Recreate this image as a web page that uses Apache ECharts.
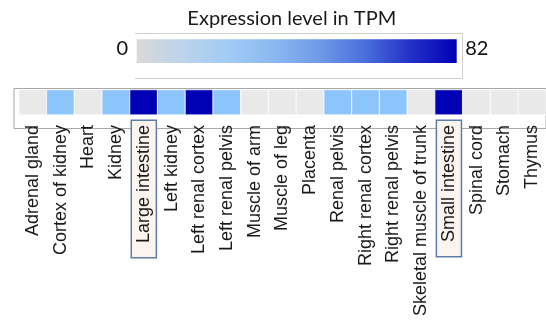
<!DOCTYPE html>
<html>
<head>
<meta charset="utf-8">
<script src="https://cdn.jsdelivr.net/npm/echarts@6/dist/echarts.min.js"></script>
<style>
  html, body { margin: 0; padding: 0; background: #ffffff; }
  #chart { width: 546px; height: 324px; }
</style>
</head>
<body>
<div id="chart"></div>
<script>
// Tissues along the strip, in display order
const tissues = [
  'Adrenal gland', 'Cortex of kidney', 'Heart', 'Kidney', 'Large intestine',
  'Left kidney', 'Left renal cortex', 'Left renal pelvis', 'Muscle of arm',
  'Muscle of leg', 'Placenta', 'Renal pelvis', 'Right renal cortex',
  'Right renal pelvis', 'Skeletal muscle of trunk', 'Small intestine',
  'Spinal cord', 'Stomach', 'Thymus'
];
// Expression level (TPM) per tissue
const tpm = [0, 41, 0, 41, 82, 41, 82, 41, 0, 0, 0, 41, 41, 41, 0, 82, 0, 0, 0];
// Tissues whose labels are boxed
const highlighted = ['Large intestine', 'Small intestine'];
// Colour scale range and caption
const scaleMin = 0;
const scaleMax = 82;
const scaleTitle = 'Expression level in TPM';
// Colour ramp shown in the key, low to high
const keyColors = ['#d9d9d9', '#bcd3eb', '#a2cbf4', '#8bb8f0', '#6f9ae8', '#4a6edc', '#2330c8', '#0000b4'];
// Colour ramp applied to the strip cells, low to high
const cellColors = ['#e9e9e9', '#8cc4fc', '#0000b4'];

const labelFont = '"Liberation Sans", Arial, sans-serif';
const keyFont = 'Lato, "Open Sans", sans-serif';

const chart = echarts.init(document.getElementById('chart'), null, { renderer: 'canvas' });

// Colour key: gradient bar with its end values, inside a light frame
const keyBar = { x: 136.7, y: 39.3, width: 320, height: 23.7 };
const keyGradient = new echarts.graphic.LinearGradient(0, 0, 1, 0,
  keyColors.map((c, i) => ({ offset: i / (keyColors.length - 1), color: c })));

chart.setOption({
  animation: false,
  backgroundColor: '#ffffff',
  title: {
    text: scaleTitle,
    left: 291.8,
    top: 9,
    padding: 0,
    textAlign: 'center',
    textStyle: { fontFamily: keyFont, fontSize: 20, fontWeight: 'normal', color: '#1a1a1a' }
  },
  graphic: [
    {
      type: 'polyline',
      silent: true,
      shape: { points: [[135, 33.5], [462.5, 33.5], [462.5, 78.5], [135, 78.5]] },
      style: { stroke: '#cfcfcf', lineWidth: 1, fill: null }
    },
    {
      type: 'rect',
      silent: true,
      shape: keyBar,
      style: { fill: keyGradient }
    },
    {
      type: 'text',
      silent: true,
      x: keyBar.x - 8.5,
      y: 48.8,
      style: {
        text: String(scaleMin), fill: '#111111', font: '20px ' + keyFont,
        align: 'right', verticalAlign: 'middle'
      }
    },
    {
      type: 'text',
      silent: true,
      x: keyBar.x + keyBar.width + 8.5,
      y: 48.8,
      style: {
        text: String(scaleMax), fill: '#111111', font: '20px ' + keyFont,
        align: 'left', verticalAlign: 'middle'
      }
    }
  ],
  visualMap: [{
    type: 'continuous',
    show: false,
    seriesIndex: 0,
    min: scaleMin,
    max: scaleMax,
    inRange: { color: cellColors }
  }],
  grid: [
    { left: 14, top: 88.5, right: -20, height: 40, show: true, borderColor: '#a9a9a9', borderWidth: 1, backgroundColor: 'transparent' },
    { left: 19, top: 90, right: -2, height: 24.7 }
  ],
  xAxis: [
    { gridIndex: 0, type: 'category', data: tissues, show: false },
    {
      gridIndex: 1,
      type: 'category',
      data: tissues,
      axisLine: { show: false },
      axisTick: { show: false },
      splitLine: { show: false },
      axisLabel: {
        interval: 0,
        rotate: 90,
        margin: 6.3,
        hideOverlap: false,
        color: '#1a1a1a',
        fontFamily: labelFont,
        fontSize: 18,
        formatter: v => highlighted.includes(v) ? '{hl|' + v + '}' : '{n|' + v + '}',
        rich: {
          n: { fontFamily: labelFont, fontSize: 18, color: '#1a1a1a', lineHeight: 20, padding: [0, 4, 0, 0] },
          hl: {
            fontFamily: labelFont, fontSize: 18, color: '#1a1a1a', lineHeight: 20,
            backgroundColor: '#fcf4ef', borderColor: '#5b7ea6', borderWidth: 1.5,
            padding: [2.8, 4, 2.8, 14]
          }
        }
      }
    }
  ],
  yAxis: [
    { gridIndex: 0, type: 'category', data: [''], show: false },
    { gridIndex: 1, type: 'category', data: ['TPM'], show: false }
  ],
  series: [{
    type: 'heatmap',
    xAxisIndex: 1,
    yAxisIndex: 1,
    data: tpm.map((v, i) => [i, 0, v]),
    itemStyle: { borderColor: 'rgba(255,255,255,0.75)', borderWidth: 1.2 },
    emphasis: { disabled: true },
    label: { show: false }
  }]
});
</script>
</body>
</html>
